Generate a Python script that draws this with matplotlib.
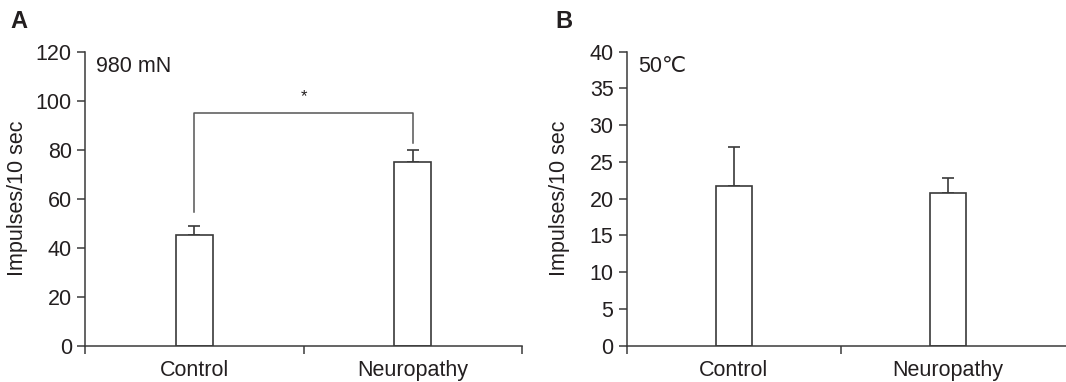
import matplotlib
matplotlib.use("Agg")
import matplotlib.pyplot as plt

plt.rcParams['font.family'] = ['Liberation Sans', 'DejaVu Sans']

# data
groups = ["Control", "Neuropathy"]
mech_mean = [45.3, 75.0]
mech_err = [3.5, 4.8]
heat_mean = [21.7, 20.8]
heat_err = [5.3, 2.0]
# significance bracket in panel A (top, left leg end, right leg end)
bracket = [95.0, 54.4, 82.9]

line_col = '#3a3a3a'
text_col = '#231f20'
positions = [0.5, 1.5]
fs = 15.5


def style_axis(ax, ymax, ystep, xmax, xticks):
    '''axes style : only left and bottom spines, ticks outside'''
    ax.spines['top'].set_visible(False)
    ax.spines['right'].set_visible(False)
    for s in ('left', 'bottom'):
        ax.spines[s].set_color(line_col)
        ax.spines[s].set_linewidth(1.1)
    ax.set_ylim(0, ymax)
    ax.set_yticks(range(0, ymax + 1, ystep))
    ax.set_xlim(0, xmax)
    ax.set_xticks(xticks)
    ax.set_xticklabels([])
    ax.set_xticks(positions, minor=True)
    ax.set_xticklabels(groups, minor=True)
    ax.tick_params(axis='x', which='major', direction='out', length=5.5,
                   width=1.1, color=line_col)
    ax.tick_params(axis='x', which='minor', length=0, pad=10,
                   labelsize=fs, labelcolor=text_col)
    ax.tick_params(axis='y', direction='out', length=5.5, width=1.1,
                   color=line_col, pad=4, labelsize=fs, labelcolor=text_col)


def draw_bars(ax, means, errs):
    ax.bar(positions, means, width=0.17, color='white', edgecolor=line_col,
           linewidth=1.2, zorder=2)
    ax.errorbar(positions, means, yerr=[[0, 0], errs], fmt='none',
                ecolor=line_col, elinewidth=1.2, capsize=4.5, capthick=1.2,
                zorder=1)


fig = plt.figure(figsize=(10.66, 3.82), dpi=100)

# panel A
axA = fig.add_axes([85 / 1066, 36.3 / 382, 437 / 1066, 294 / 382])
style_axis(axA, 120, 20, 2, [0, 1, 2])
draw_bars(axA, mech_mean, mech_err)
axA.plot([positions[0], positions[0], positions[1], positions[1]],
         [bracket[1], bracket[0], bracket[0], bracket[2]],
         color='#555555', linewidth=1.1)
axA.text(sum(positions) / 2, bracket[0] + 3.5, '*', ha='center', va='bottom',
         fontsize=12, color=text_col)
axA.text(0.025, 0.985, '980 mN', transform=axA.transAxes, ha='left', va='top',
         fontsize=fs, color=text_col)

# panel B
axB = fig.add_axes([626.7 / 1066, 36.3 / 382, 439.3 / 1066, 294 / 382])
style_axis(axB, 40, 5, 2.05, [0, 1])
draw_bars(axB, heat_mean, heat_err)
axB.text(0.025, 0.985, '50℃', transform=axB.transAxes, ha='left', va='top',
         fontsize=fs, color=text_col)

# labels
fig.text(17.5 / 1066, 1 - 198 / 382, 'Impulses/10 sec', rotation=90,
         ha='center', va='center', fontsize=fs, color=text_col)
fig.text(559.5 / 1066, 1 - 198 / 382, 'Impulses/10 sec', rotation=90,
         ha='center', va='center', fontsize=fs, color=text_col)
fig.text(10 / 1066, 1 - 21 / 382, 'A', ha='left', va='center',
         fontsize=17, fontweight='bold', color=text_col)
fig.text(555 / 1066, 1 - 21 / 382, 'B', ha='left', va='center',
         fontsize=17, fontweight='bold', color=text_col)

fig.savefig('out.png', dpi=100)
